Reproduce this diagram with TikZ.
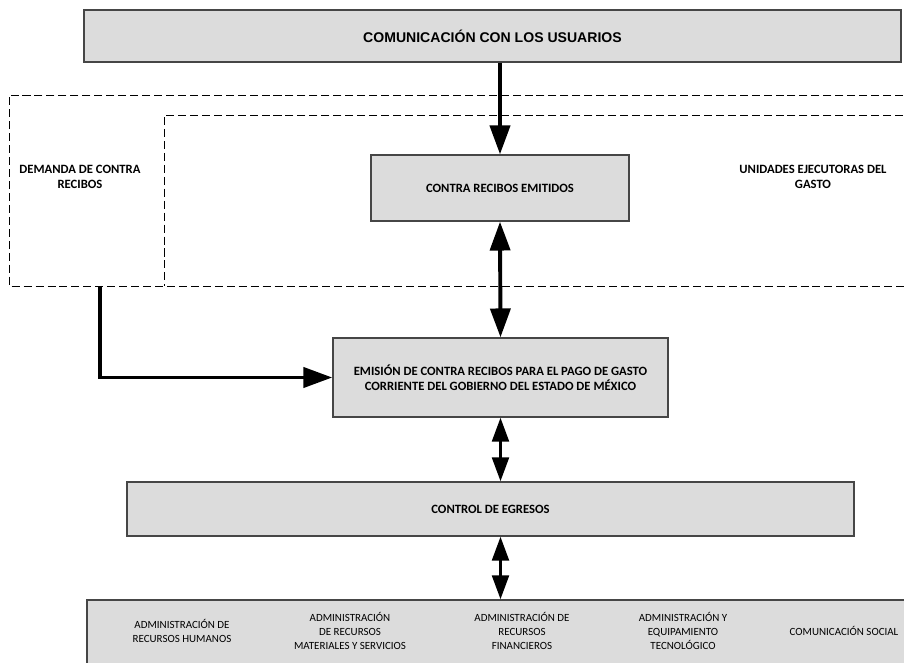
\documentclass[tikz,border=0pt]{standalone}
\usepackage{fontspec}
\setmainfont{Carlito}
\newfontfamily\arialfont{Liberation Sans}
\usetikzlibrary{positioning, arrows.meta, calc}
\definecolor{boxgray}{RGB}{220, 220, 220}
\definecolor{edgegray}{RGB}{70, 70, 70}

\tikzset{
    procbox/.style={draw=edgegray, line width=1pt, fill=boxgray, inner sep=0pt, align=center},
    zone/.style={draw=black, line width=0.6pt, dash pattern=on 5.7pt off 2.8pt},
    zonelabel/.style={font=\fontsize{9}{10.5}\selectfont\bfseries, align=center},
    unitlabel/.style={font=\fontsize{7.8}{10}\selectfont, align=center},
    bigflow/.style={line width=2.8pt, -{Triangle[width=0.5cm, length=0.72cm]}},
    bigboth/.style={line width=2.8pt, {Triangle[width=0.5cm, length=0.72cm]}-{Triangle[width=0.5cm, length=0.72cm]}},
    smallflow/.style={line width=2.1pt, {Triangle[width=0.42cm, length=0.6cm]}-{Triangle[width=0.42cm, length=0.6cm]}}
}

\begin{document}
\begin{tikzpicture}[x=0.025cm, y=-0.025cm]
    \useasboundingbox (0,0) rectangle (904,663);
    \clip (0,0) rectangle (904,663);

    % zonas punteadas
    \draw[zone] (915,95) -- (9,95) -- (9,286) -- (915,286);
    \draw[zone] (915,115) -- (164,115) -- (164,286);
    \node[zonelabel] (demanda) at (80,177) {DEMANDA DE CONTRA\\RECIBOS};
    \node[zonelabel] (unidades) at (813,177) {UNIDADES EJECUTORAS DEL\\GASTO};

    % cajas
    \node[procbox, minimum width=20.425cm, minimum height=1.3cm,
          font=\arialfont\fontsize{10}{12}\selectfont\bfseries] (usuarios) at (492.5,36) {COMUNICACIÓN CON LOS USUARIOS};
    \node[procbox, minimum width=6.45cm, minimum height=1.65cm,
          font=\fontsize{9}{10.5}\selectfont\bfseries] (emitidos) at (500,188) {CONTRA RECIBOS EMITIDOS};
    \node[procbox, minimum width=8.375cm, minimum height=1.975cm,
          font=\fontsize{9}{11}\selectfont\bfseries] (emision) at (500.5,377.5)
          {EMISIÓN DE CONTRA RECIBOS PARA EL PAGO DE GASTO\\CORRIENTE DEL GOBIERNO DEL ESTADO DE MÉXICO};
    \node[procbox, minimum width=18.175cm, minimum height=1.35cm,
          font=\fontsize{9}{10.5}\selectfont\bfseries] (egresos) at (490.5,509) {CONTROL DE EGRESOS};
    \node[procbox, minimum width=20.625cm, minimum height=1.8cm] (areas) at (499.5,636) {};

    % unidades administrativas
    \node[unitlabel] (rh) at (182,631) {ADMINISTRACIÓN DE\\RECURSOS HUMANOS};
    \node[unitlabel] (rm) at (350,631) {ADMINISTRACIÓN\\DE RECURSOS\\MATERIALES Y SERVICIOS};
    \node[unitlabel] (rf) at (522,631) {ADMINISTRACIÓN DE\\RECURSOS\\FINANCIEROS};
    \node[unitlabel] (et) at (683,631) {ADMINISTRACIÓN Y\\EQUIPAMIENTO\\TECNOLÓGICO};
    \node[unitlabel] (cs) at (844,631) {COMUNICACIÓN SOCIAL};

    % flujos
    \coordinate (salida) at (100,286);
    \draw[bigflow] (emitidos.north |- usuarios.south) -- (emitidos.north);
    \draw[bigboth] (emitidos.south) -- (emision.north);
    \draw[bigflow] (salida) |- (emision.west);
    \draw[smallflow] (emision.south) -- (emision.south |- egresos.north);
    \draw[smallflow] (emision.south |- egresos.south) -- (emision.south |- areas.north);
\end{tikzpicture}
\end{document}
